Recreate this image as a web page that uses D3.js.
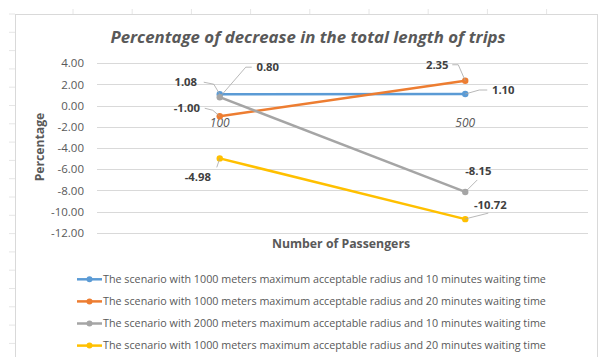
<!DOCTYPE html>
<meta charset="utf-8" />
<script src="https://d3js.org/d3.v7.min.js"></script>
<style>
	body { margin: 0; background: #fff; }
	text { font-family: "Open Sans", sans-serif; }
</style>
<div id="chart"></div>
<script>
	// data
	var categories = ["100", "500"];
	var seriesNames = [
		"The scenario with 1000 meters maximum acceptable radius and 10 minutes waiting time",
		"The scenario with 1000 meters maximum acceptable radius and 20 minutes waiting time",
		"The scenario with 2000 meters maximum acceptable radius and 10 minutes waiting time",
		"The scenario with 1000 meters maximum acceptable radius and 20 minutes waiting time"
	];
	var blueValues = [1.08, 1.1];
	var orangeValues = [-1.0, 2.35];
	var grayValues = [0.8, -8.15];
	var yellowValues = [-4.98, -10.72];
	var yTicks = [4, 2, 0, -2, -4, -6, -8, -10, -12];

	var colors = ["#5B9BD5", "#ED7D31", "#A5A5A5", "#FFC000"];
	var allValues = [blueValues, orangeValues, grayValues, yellowValues];

	// number format with a plain hyphen for negatives, like the original
	var fmt = v => d3.format(".2f")(v).replace("\u2212", "-");

	// where each data label sits relative to its point: [dx, dy] for label centre,
	// plus the leader line bend
	var labelPos = [
		[{ dx: -34, dy: -12, lead: [[-16, -12], [-6, -10]] }, { dx: 38, dy: -4, lead: [[22, -4], [14, -4]] }],
		[{ dx: -33, dy: -8, lead: [[-15, -8], [-7, -6]] }, { dx: -28, dy: -16, lead: [[-13, -16], [-7, -16]] }],
		[{ dx: 48, dy: -30, lead: [[32, -30], [26, -30]] }, { dx: 13, dy: -21, lead: [[12, -12], [3, -3]] }],
		[{ dx: -22, dy: 19, lead: [[-3, 9], [0, 0]] }, { dx: 25, dy: -14, lead: [[23, -6], [3, -1]] }]
	];

	var W = 603, H = 357;
	var svg = d3.select("#chart").append("svg")
		.attr("width", W).attr("height", H);

	// faint worksheet marks outside the chart frame
	var ghost = svg.append("g").attr("stroke", "#e6e6e6").attr("stroke-width", 1);
	ghost.selectAll(".gl").data(d3.range(14, 357, 18.3)).join("line")
		.attr("x1", 9).attr("x2", 15).attr("y1", d => d).attr("y2", d => d);
	ghost.selectAll(".gt").data(d3.range(73, 603, 59.2)).join("line")
		.attr("x1", d => d).attr("x2", d => d).attr("y1", 9).attr("y2", 14);

	// chart frame
	svg.append("rect")
		.attr("x", 15.5).attr("y", 14.5)
		.attr("width", 582).attr("height", 350)
		.attr("fill", "#fff").attr("stroke", "#d9d9d9");

	// scales
	var x = d3.scaleBand().domain(categories).range([97, 588]);
	var y = d3.scaleLinear().domain([-12, 4]).range([232.7, 63.3]);
	var cx = c => x(c) + x.bandwidth() / 2;

	// gridlines
	svg.append("g").selectAll("line").data(yTicks).join("line")
		.attr("x1", 97).attr("x2", 588)
		.attr("y1", d => Math.round(y(d)) + 0.5).attr("y2", d => Math.round(y(d)) + 0.5)
		.attr("stroke", "#d9d9d9");

	// y axis labels
	var yAxis = svg.append("g")
		.attr("transform", "translate(97,0)")
		.call(d3.axisLeft(y).tickValues(yTicks).tickFormat(fmt).tickSize(0).tickPadding(13));
	yAxis.select(".domain").remove();
	yAxis.selectAll("text")
		.attr("fill", "#595959")
		.style("font-size", "11.5px")
		.style("font-family", "Open Sans, sans-serif");

	// category labels sit on the zero line
	svg.append("g").selectAll("text").data(categories).join("text")
		.attr("x", d => cx(d)).attr("y", y(0) + 21)
		.attr("text-anchor", "middle")
		.attr("fill", "#595959")
		.style("font-size", "12px").style("font-style", "italic")
		.text(d => d);

	// title
	svg.append("text")
		.attr("x", 308).attr("y", 43)
		.attr("text-anchor", "middle")
		.attr("fill", "#595959")
		.style("font-size", "16.8px").style("font-weight", "bold").style("font-style", "italic")
		.text("Percentage of decrease in the total length of trips");

	// axis titles
	svg.append("text")
		.attr("transform", "translate(44,147) rotate(-90)")
		.attr("text-anchor", "middle")
		.attr("fill", "#595959")
		.style("font-size", "12.2px").style("font-weight", "bold")
		.text("Percentage");
	svg.append("text")
		.attr("x", 341).attr("y", 248)
		.attr("text-anchor", "middle")
		.attr("fill", "#595959")
		.style("font-size", "12.3px").style("font-weight", "bold")
		.text("Number of Passengers");

	// lines and markers
	var line = d3.line().x((d, i) => cx(categories[i])).y(d => y(d));
	allValues.forEach(function (vals, s) {
		var g = svg.append("g");
		g.append("path").datum(vals)
			.attr("d", line).attr("fill", "none")
			.attr("stroke", colors[s]).attr("stroke-width", 2.5);
		g.selectAll("circle").data(vals).join("circle")
			.attr("cx", (d, i) => cx(categories[i])).attr("cy", d => y(d))
			.attr("r", 3.2).attr("fill", colors[s]);
	});

	// data labels with leader lines
	allValues.forEach(function (vals, s) {
		vals.forEach(function (v, i) {
			var px = cx(categories[i]), py = y(v), p = labelPos[s][i];
			var pts = [[px + p.lead[0][0], py + p.lead[0][1]], [px + p.lead[1][0], py + p.lead[1][1]], [px, py]];
			svg.append("path")
				.attr("d", d3.line()(pts))
				.attr("fill", "none").attr("stroke", "#a6a6a6").attr("stroke-width", 0.8);
			svg.append("text")
				.attr("x", px + p.dx).attr("y", py + p.dy)
				.attr("dy", "0.35em")
				.attr("text-anchor", "middle")
				.attr("fill", "#404040")
				.style("font-size", "11.3px").style("font-weight", "bold")
				.text(fmt(v));
		});
	});

	// legend
	var legend = svg.append("g").selectAll("g").data(seriesNames).join("g")
		.attr("transform", (d, i) => "translate(77," + (279.3 + i * 22.1) + ")");
	legend.append("line")
		.attr("x1", 0).attr("x2", 25)
		.attr("stroke", (d, i) => colors[i]).attr("stroke-width", 2.5);
	legend.append("circle")
		.attr("cx", 12.5).attr("r", 3).attr("fill", (d, i) => colors[i]);
	legend.append("text")
		.attr("x", 26).attr("dy", "0.35em")
		.attr("fill", "#595959")
		.style("font-size", "10.75px")
		.text(d => d);
</script>
